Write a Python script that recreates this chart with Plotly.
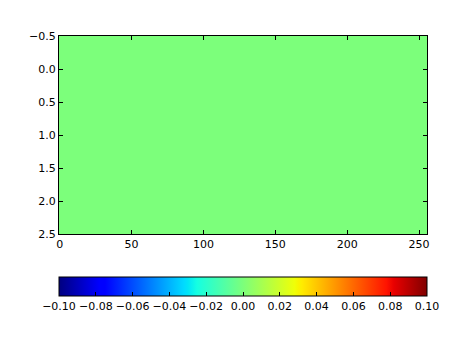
import numpy as np
import plotly.graph_objects as go

# Data: 3 x 256 image of zeros
n_rows = 3
n_cols = 256
z_values = np.zeros((n_rows, n_cols))
x_ticks = [0, 50, 100, 150, 200, 250]
x_ticklabels = ["0", "50", "100", "150", "200", "250"]
y_ticks = [-0.5, 0.0, 0.5, 1.0, 1.5, 2.0, 2.5]
y_ticklabels = ["\u22120.5", "0.0", "0.5", "1.0", "1.5", "2.0", "2.5"]
cb_ticks = [-0.10, -0.08, -0.06, -0.04, -0.02, 0.0, 0.02, 0.04, 0.06, 0.08, 0.10]
cb_ticklabels = ["\u22120.10", "\u22120.08", "\u22120.06", "\u22120.04", "\u22120.02",
                 "0.00", "0.02", "0.04", "0.06", "0.08", "0.10"]

# matplotlib 'jet' colormap segment data
red = [(0, 0), (0.35, 0), (0.66, 1), (0.89, 1), (1, 0.5)]
green = [(0, 0), (0.125, 0), (0.375, 1), (0.64, 1), (0.91, 0), (1, 0)]
blue = [(0, 0.5), (0.11, 1), (0.34, 1), (0.65, 0), (1, 0)]
stops = sorted(set([p for p, _ in red + green + blue]))


def interp(seg, t):
    xs = [p for p, _ in seg]
    vs = [v for _, v in seg]
    return float(np.interp(t, xs, vs))


jet = [[t, "rgb(%d,%d,%d)" % (round(interp(red, t) * 255),
                              round(interp(green, t) * 255),
                              round(interp(blue, t) * 255))] for t in stops]

fig = go.Figure(go.Heatmap(
    z=z_values,
    x=np.arange(n_cols),
    y=np.arange(n_rows),
    colorscale=jet,
    zmin=-0.1, zmax=0.1,
    showscale=True,
    colorbar=dict(
        orientation="h",
        x=0.5, xanchor="center",
        y=-0.215, yanchor="top",
        len=1.0, lenmode="fraction",
        thickness=19,
        xpad=0, ypad=0,
        outlinewidth=1, outlinecolor="black",
        ticks="inside", ticklen=4, tickcolor="black",
        tickvals=cb_ticks, ticktext=cb_ticklabels,
        tickfont=dict(family="DejaVu Sans", size=11, color="black"),
    ),
))

fig.update_xaxes(
    range=[-0.5, n_cols - 0.5],
    tickvals=x_ticks, ticktext=x_ticklabels,
    ticks="inside", ticklen=4, tickcolor="black",
    showline=True, linecolor="black", linewidth=1, mirror="allticks",
    showgrid=False, zeroline=False,
    tickfont=dict(family="DejaVu Sans", size=11, color="black"),
)
fig.update_yaxes(
    range=[n_rows - 0.5, -0.5],
    tickvals=y_ticks, ticktext=y_ticklabels,
    ticks="inside", ticklen=4, tickcolor="black",
    showline=True, linecolor="black", linewidth=1, mirror="allticks",
    showgrid=False, zeroline=False,
    tickfont=dict(family="DejaVu Sans", size=11, color="black"),
)

fig.update_layout(
    width=474, height=355,
    margin=dict(l=59, r=47, t=36, b=121),
    paper_bgcolor="white", plot_bgcolor="white",
    font=dict(family="DejaVu Sans", size=11, color="black"),
)

fig.write_html("out.html")
